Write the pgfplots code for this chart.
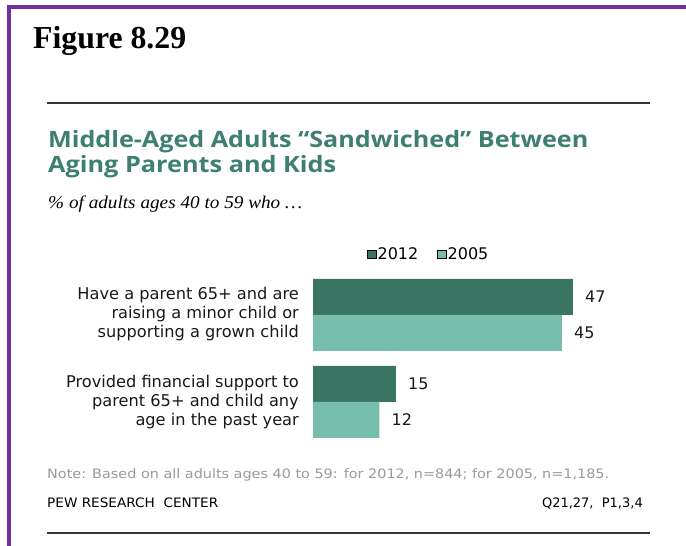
\documentclass[border=0pt]{standalone}
\usepackage{pgfplots}
\pgfplotsset{compat=1.18}
\usepackage{fontspec}
\usepackage{graphicx}
\setmainfont{DejaVu Sans}
\newfontfamily\figfont{Liberation Serif}
\newfontfamily\ttlfont{Open Sans}
\definecolor{purp}{HTML}{7030A0}
\definecolor{ttl}{HTML}{3D7F70}
\definecolor{dark}{HTML}{3A7564}
\definecolor{light}{HTML}{77BDAC}
\definecolor{note}{HTML}{9A9A9A}
\definecolor{rule}{HTML}{333333}
\begin{document}
\begin{tikzpicture}[x=1pt,y=1pt]
\path[use as bounding box] (0,0) rectangle (686,546);
\fill[white] (0,0) rectangle (686,546);
\fill[purp] (7,537) rectangle (686,541);
\fill[purp] (7,0) rectangle (11,541);
\draw[rule, line width=2pt] (47,443) -- (650,443);
\draw[rule, line width=2pt] (47,13) -- (650,13);
% figure label
\node[anchor=base west, inner sep=0pt] at (33,497) {\resizebox{153pt}{\height}{\figfont\bfseries\fontsize{32}{32}\selectfont Figure 8.29}};
% title
\node[anchor=base west, inner sep=0pt, text=ttl] at (48,398) {\resizebox{540pt}{\height}{\ttlfont\bfseries\fontsize{22.5}{22.5}\selectfont Middle-Aged Adults \textquotedblleft Sandwiched\textquotedblright{} Between}};
\node[anchor=base west, inner sep=0pt, text=ttl] at (48,373) {\resizebox{288pt}{\height}{\ttlfont\bfseries\fontsize{22.5}{22.5}\selectfont Aging Parents and Kids}};
% subtitle
\node[anchor=base west, inner sep=0pt, text=black] at (48,337) {\resizebox{254pt}{\height}{\figfont\itshape\fontsize{18}{18}\selectfont \% of adults ages 40 to 59 who \dots}};
% category labels
\begin{scope}[every node/.style={anchor=base east, inner sep=0pt, font=\fontsize{16.2}{16.2}\selectfont, text=black!90}]
\node at (299,246) {Have a parent 65+ and are};
\node at (299,227) {raising a minor child or};
\node at (299,208) {supporting a grown child};
\node at (299,158) {Provided financial support to};
\node at (299,139) {parent 65+ and child any};
\node at (299,120) {age in the past year};
\end{scope}
% notes
\node[anchor=base west, inner sep=0pt, text=note] at (47,67) {\resizebox{562pt}{\height}{\fontsize{13}{13}\selectfont Note: Based on all adults ages 40 to 59: for 2012, n=844; for 2005, n=1,185.}};
\node[anchor=base west, inner sep=0pt] at (47,38) {\resizebox{171pt}{\height}{\fontsize{13}{13}\selectfont PEW RESEARCH\ \ CENTER}};
\node[anchor=base east, inner sep=0pt] at (643,38) {\fontsize{13}{13}\selectfont Q21,27,\ \ P1,3,4};
\begin{axis}[
 at={(313pt,100.5pt)}, anchor=south west,
 width=260pt, height=174pt, scale only axis,
 xmin=0, xmax=47, ymin=-0.5, ymax=1.5, y dir=reverse,
 hide axis, clip=false,
 xbar, bar width=36pt,
 /pgf/number format/assume math mode=true,
 nodes near coords,
 nodes near coords style={font=\fontsize{16}{16}\selectfont, anchor=west, inner sep=0pt, xshift=12pt, text=black!90},
 legend columns=2,
 legend style={at={(0.2077,1.1006)}, anchor=west, draw=none, fill=none, inner sep=0pt,
   font=\fontsize{16}{16}\selectfont, nodes={inner sep=1pt},
   /tikz/every even column/.append style={column sep=18pt}},
 legend image code/.code={\draw[#1] (0pt,-4pt) rectangle (9pt,4pt);},
]
\addplot[fill=dark, draw=none, bar shift=18pt] coordinates {(47,0) (15,1)};
\addlegendentry{2012}
\addplot[fill=light, draw=none, bar shift=-18pt] coordinates {(45,0) (12,1)};
\addlegendentry{2005}
\end{axis}
\end{tikzpicture}
\end{document}
